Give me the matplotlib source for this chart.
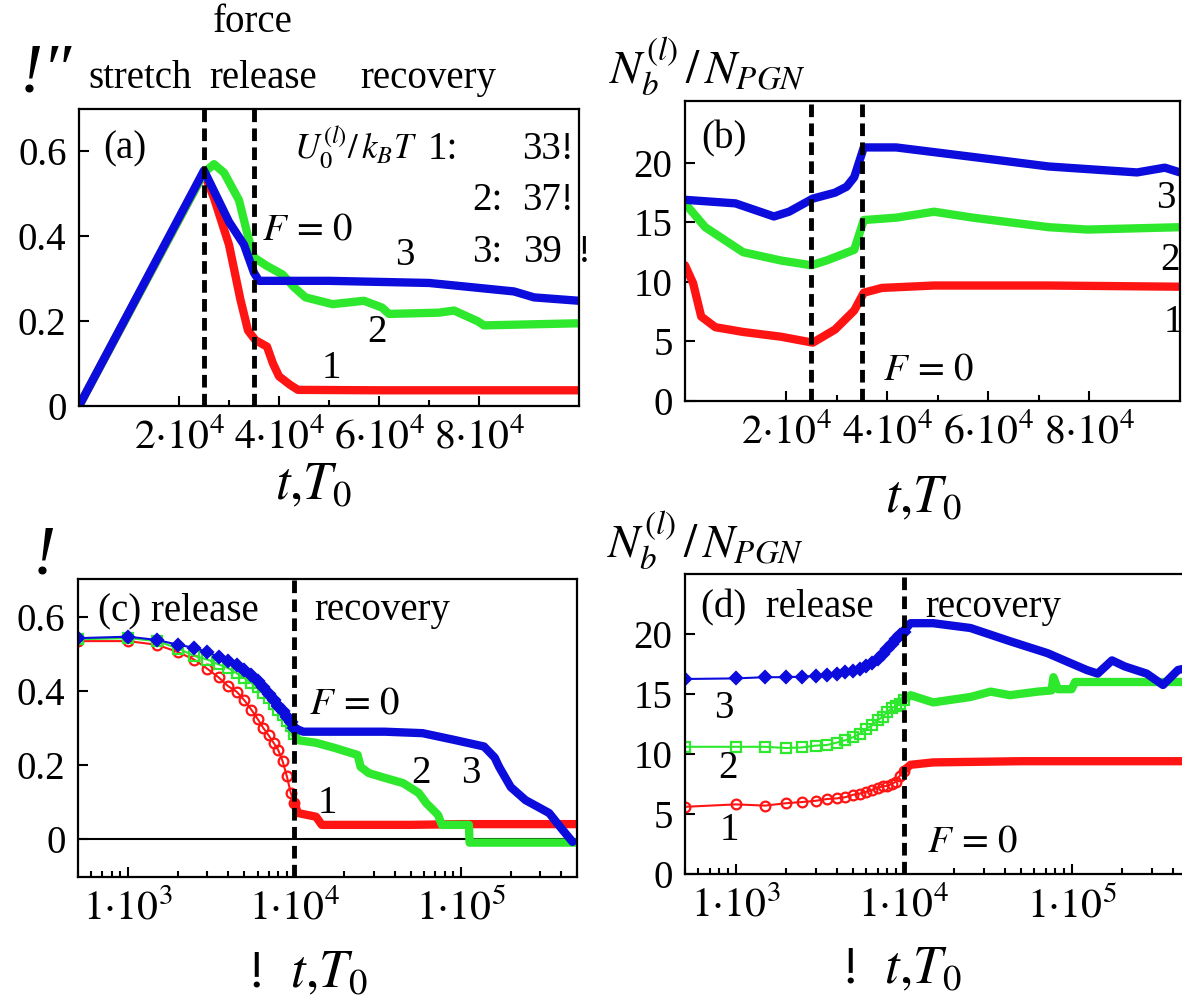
import matplotlib
matplotlib.use('Agg')
import matplotlib.pyplot as plt

plt.rcParams['font.family'] = ['Liberation Serif', 'DejaVu Serif']
plt.rcParams['mathtext.fontset'] = 'stix'

# ---------------- data ----------------
RED, GREEN, BLUE = '#ff1414', '#2ee82e', '#0c0cdc'

# panel (a): strain vs t (linear)
a_t1 = [0, 2.5e4, 2.7e4, 3.0e4, 3.23e4, 3.38e4, 3.53e4, 3.76e4, 3.88e4, 4.0e4, 4.22e4, 4.38e4, 6e4, 8e4, 1e5]
a_y1 = [0, 0.55, 0.49, 0.38, 0.25, 0.178, 0.155, 0.14, 0.10, 0.07, 0.05, 0.038, 0.037, 0.037, 0.037]
a_t2 = [0, 2.5e4, 2.7e4, 2.9e4, 3.2e4, 3.38e4, 3.5e4, 3.76e4, 4.07e4, 4.3e4, 4.53e4, 5.07e4, 5.7e4,
        6.06e4, 6.2e4, 7.2e4, 7.5e4, 7.97e4, 8.1e4, 1e5]
a_y2 = [0, 0.55, 0.57, 0.55, 0.485, 0.40, 0.35, 0.33, 0.31, 0.28, 0.256, 0.24, 0.248,
        0.232, 0.217, 0.22, 0.225, 0.20, 0.19, 0.195]
a_t3 = [0, 2.5e4, 3.0e4, 3.3e4, 3.5e4, 3.6e4, 5e4, 7e4, 7.6e4, 8.7e4, 9.1e4, 1e5]
a_y3 = [0, 0.555, 0.434, 0.38, 0.314, 0.295, 0.295, 0.29, 0.283, 0.27, 0.256, 0.248]

# panel (b): bonds per PGN vs t (linear)
b_t1 = [0, 0.16e4, 0.32e4, 0.6e4, 1.15e4, 1.9e4, 2.53e4, 2.97e4, 3.35e4, 3.54e4, 3.9e4, 4.93e4, 7.2e4, 9.8e4]
b_y1 = [11.4, 9.9, 7.1, 6.2, 5.8, 5.4, 4.9, 6.0, 7.6, 9.1, 9.5, 9.7, 9.7, 9.6]
b_t2 = [0, 0.4e4, 1.15e4, 1.9e4, 2.5e4, 2.8e4, 3.35e4, 3.54e4, 4.18e4, 4.93e4, 5.7e4, 7.2e4, 7.97e4, 9.8e4]
b_y2 = [16.6, 14.6, 12.5, 11.8, 11.4, 11.8, 12.7, 15.2, 15.4, 15.9, 15.4, 14.6, 14.4, 14.6]
b_t3 = [0, 1.0e4, 1.76e4, 2.06e4, 2.53e4, 2.97e4, 3.2e4, 3.35e4, 3.54e4, 4.18e4, 5.7e4, 7.2e4, 8.95e4, 9.5e4, 9.8e4]
b_y3 = [16.9, 16.6, 15.5, 15.9, 17.0, 17.5, 18.0, 18.8, 21.3, 21.3, 20.5, 19.7, 19.2, 19.6, 19.2]

# release-phase sample times (panels c, d)
t_rel = [500, 1000, 1500, 2000, 2500, 3000, 3500, 4000, 4500, 5000,
         5500, 6000, 6500, 7000, 7500, 8000, 8500, 9000, 9500, 10000]

# panel (c)
c_y1_rel = [0.535, 0.535, 0.525, 0.505, 0.485, 0.46, 0.437, 0.413, 0.398, 0.375,
            0.35, 0.325, 0.30, 0.28, 0.26, 0.24, 0.21, 0.17, 0.125, 0.097]
c_y2_rel = [0.54, 0.543, 0.535, 0.515, 0.495, 0.485, 0.472, 0.462, 0.448, 0.435,
            0.422, 0.41, 0.396, 0.38, 0.365, 0.35, 0.335, 0.32, 0.305, 0.285]
c_y3_rel = [0.543, 0.547, 0.538, 0.525, 0.517, 0.505, 0.493, 0.482, 0.47, 0.457,
            0.443, 0.428, 0.41, 0.393, 0.377, 0.36, 0.345, 0.33, 0.315, 0.30]
c_t1_rec = [1e4, 1.05e4, 1.35e4, 1.46e4, 5e4, 1e5, 5e5]
c_y1_rec = [0.097, 0.07, 0.06, 0.038, 0.038, 0.04, 0.04]
c_t2_rec = [1e4, 1.05e4, 1.35e4, 1.75e4, 2.4e4, 2.5e4, 2.8e4, 3.5e4, 4.5e4, 5.6e4, 6.2e4,
            7.3e4, 7.7e4, 1.12e5, 1.13e5, 5e5]
c_y2_rec = [0.285, 0.267, 0.26, 0.246, 0.227, 0.195, 0.178, 0.165, 0.151, 0.124, 0.097,
            0.065, 0.038, 0.038, -0.01, -0.01]
c_t3_rec = [1e4, 1.13e4, 3.5e4, 5.9e4, 9.1e4, 1.38e5, 1.6e5, 1.7e5, 2.0e5, 2.45e5, 3.4e5, 4.0e5, 4.7e5]
c_y3_rec = [0.30, 0.29, 0.29, 0.286, 0.268, 0.25, 0.22, 0.195, 0.14, 0.105, 0.07, 0.03, -0.008]

# panel (d)
d_y1_rel = [5.6, 5.8, 5.7, 5.9, 6.0, 6.1, 6.25, 6.3, 6.4, 6.6,
            6.7, 6.85, 7.0, 7.2, 7.3, 7.35, 7.5, 7.7, 8.2, 8.6]
d_y2_rel = [10.6, 10.6, 10.6, 10.5, 10.55, 10.7, 10.75, 10.95, 11.15, 11.4,
            11.7, 12.1, 12.4, 12.8, 13.1, 13.5, 13.8, 14.0, 14.2, 14.5]
d_y3_rel = [16.25, 16.3, 16.4, 16.4, 16.45, 16.5, 16.6, 16.7, 16.8, 16.9,
            17.05, 17.3, 17.6, 17.9, 18.3, 18.75, 19.2, 19.6, 19.9, 20.2]
d_t1_rec = [1e4, 1.1e4, 1.5e4, 5e4, 1e5, 5e5]
d_y1_rec = [8.6, 9.1, 9.3, 9.4, 9.4, 9.4]
d_t2_rec = [1e4, 1.1e4, 1.5e4, 2.5e4, 3.3e4, 4.3e4, 6.3e4, 7.6e4, 7.8e4, 8.3e4, 1.0e5, 1.05e5, 5e5]
d_y2_rec = [14.5, 14.9, 14.3, 14.75, 15.2, 14.9, 15.2, 15.3, 16.4, 15.4, 15.4, 16.0, 16.0]
d_t3_rec = [1e4, 1.1e4, 1.5e4, 2.5e4, 4.3e4, 7.2e4, 9.4e4, 1.23e5, 1.43e5, 1.74e5, 2.07e5,
            2.8e5, 3.5e5, 4.3e5, 5e5]
d_y3_rec = [20.2, 20.9, 20.9, 20.5, 19.4, 18.4, 17.7, 17.0, 16.7, 17.8, 17.3,
            16.7, 15.75, 17.0, 17.2]

t_lin_major = [2e4, 4e4, 6e4, 8e4]
t_lin_labels = [r'$2{\cdot}10^4$', r'$4{\cdot}10^4$', r'$6{\cdot}10^4$', r'$8{\cdot}10^4$']
t_lin_minor = [3e4, 5e4, 7e4]
t_log_major = [1e3, 1e4, 1e5]
t_log_labels = [r'$1{\cdot}10^3$', r'$1{\cdot}10^4$', r'$1{\cdot}10^5$']
strain_ticks = [0, 0.2, 0.4, 0.6]
strain_labels = ['0', '0.2', '0.4', '0.6']
bond_ticks = [0, 5, 10, 15, 20]
bond_labels = ['0', '5', '10', '15', '20']

# ---------------- figure ----------------
W, H = 1182, 1008
fig = plt.figure(figsize=(W / 100, H / 100), dpi=100)


def axpx(l, t, r, b):
    return fig.add_axes([l / W, 1 - b / H, (r - l) / W, (b - t) / H])


def ftxt(x, y, s, size=28, **kw):
    kw.setdefault('ha', 'left')
    kw.setdefault('va', 'baseline')
    fig.text(x / W, 1 - y / H, s, fontsize=size, **kw)


def style(ax):
    for sp in ax.spines.values():
        sp.set_linewidth(1.6)
    ax.tick_params(which='both', direction='in', top=False, right=False, width=1.5)
    ax.tick_params(axis='y', labelsize=28)
    ax.tick_params(axis='x', labelsize=30)
    ax.tick_params(which='major', length=7, pad=9)
    ax.tick_params(which='minor', length=4)


LW = 6
dash = (0, (2.6, 1.3))

axA = axpx(79, 109, 579, 406)
axB = axpx(685, 101, 1180, 401)
axC = axpx(78, 579, 577, 877)
axD = axpx(685, 574, 1189, 874)

# (a)
for t, y, c in [(a_t1, a_y1, RED), (a_t2, a_y2, GREEN), (a_t3, a_y3, BLUE)]:
    axA.plot(t, y, color=c, lw=LW, solid_capstyle='round', solid_joinstyle='round')
axA.set_xlim(0, 1e5)
axA.set_ylim(0, 0.7)
for xv in (2.5e4, 3.5e4):
    axA.axvline(xv, color='k', lw=3.5, ls=dash, zorder=5)

# (b)
for t, y, c in [(b_t1, b_y1, RED), (b_t2, b_y2, GREEN), (b_t3, b_y3, BLUE)]:
    axB.plot(t, y, color=c, lw=LW, solid_capstyle='round', solid_joinstyle='round')
axB.set_xlim(0, 9.8e4)
axB.set_ylim(0, 25.2)
for xv in (2.5e4, 3.5e4):
    axB.axvline(xv, color='k', lw=3.5, ls=dash, zorder=5)

for ax in (axA, axB):
    ax.set_xticks(t_lin_major)
    ax.set_xticklabels(t_lin_labels)
    ax.set_xticks(t_lin_minor, minor=True)
axA.set_yticks(strain_ticks)
axA.set_yticklabels(strain_labels)
axB.set_yticks(bond_ticks)
axB.set_yticklabels(bond_labels)

# (c)
axC.axhline(0, color='k', lw=1.5, zorder=1)
sets_c = [(c_y1_rel, c_t1_rec, c_y1_rec, RED, 'o', 'none'),
          (c_y2_rel, c_t2_rec, c_y2_rec, GREEN, 's', 'none'),
          (c_y3_rel, c_t3_rec, c_y3_rec, BLUE, 'D', BLUE)]
for yr, tr, yv, c, m, fc in sets_c:
    axC.plot(tr, yv, color=c, lw=LW, solid_capstyle='round', solid_joinstyle='round')
    axC.plot(t_rel, yr, color=c, lw=1.5, marker=m, mfc=fc, mec=c, ms=7 if m != 'D' else 6, mew=1.6)
axC.set_xscale('log')
axC.set_xlim(500, 5e5)
axC.set_ylim(-0.103, 0.703)
axC.axvline(1e4, color='k', lw=3.5, ls=dash, zorder=5)
axC.set_yticks(strain_ticks)
axC.set_yticklabels(strain_labels)

# (d)
sets_d = [(d_y1_rel, d_t1_rec, d_y1_rec, RED, 'o', 'none'),
          (d_y2_rel, d_t2_rec, d_y2_rec, GREEN, 's', 'none'),
          (d_y3_rel, d_t3_rec, d_y3_rec, BLUE, 'D', BLUE)]
for yr, tr, yv, c, m, fc in sets_d:
    axD.plot(tr, yv, color=c, lw=LW, solid_capstyle='round', solid_joinstyle='round')
    axD.plot(t_rel, yr, color=c, lw=1.5, marker=m, mfc=fc, mec=c, ms=7 if m != 'D' else 6, mew=1.6)
axD.set_xscale('log')
axD.set_xlim(500, 5e5)
axD.set_ylim(0, 25)
axD.axvline(1e4, color='k', lw=3.5, ls=dash, zorder=5)
axD.set_yticks(bond_ticks)
axD.set_yticklabels(bond_labels)

for ax in (axC, axD):
    ax.set_xticks(t_log_major)
    ax.set_xticklabels(t_log_labels)
    ax.xaxis.set_minor_locator(matplotlib.ticker.LogLocator(base=10, subs=range(2, 10)))
    ax.xaxis.set_minor_formatter(matplotlib.ticker.NullFormatter())

for ax in (axA, axB, axC, axD):
    style(ax)

# ---------------- texts ----------------
XL = r'$t{,}T_{\mathit{0}}$'
XL2 = r'!  $t{,}T_{\mathit{0}}$'
YN = r'$N_b^{(l)}\,/\,N_{PGN}$'
F0 = r'$F\,=\,0$'

# top-left of (a)
ftxt(20, 92, '!\u2033', size=50, style='italic')
ftxt(88, 88, 'stretch')
ftxt(253, 32, 'force', ha='center')
ftxt(209, 88, 'release')
ftxt(360, 88, 'recovery')
# inside (a)
ftxt(103, 158, '(a)')
ftxt(294, 159, r'$U_0^{(l)}/\,k_BT$', size=25)
ftxt(428, 159, '1:')
ftxt(574, 159, '33!', ha='right')
ftxt(472, 210, '2:')
ftxt(574, 210, '37!', ha='right')
ftxt(472, 262, '3:')
ftxt(562, 262, '39', ha='right')
ftxt(578, 262, '!')
ftxt(262, 239, F0)
ftxt(395, 265, '3')
ftxt(367, 342, '2')
ftxt(322, 378, '1')
ftxt(275, 499, XL, size=38)

# (b)
ftxt(609, 83, YN, size=34)
ftxt(701, 148, '(b)')
ftxt(1156, 208, '3')
ftxt(1160, 270, '2')
ftxt(1164, 332, '1')
ftxt(883, 380, F0)
ftxt(885, 512, XL, size=38)

# (c)
ftxt(33, 573, '!', size=50, style='italic')
ftxt(98, 620, '(c) release')
ftxt(314, 620, 'recovery')
ftxt(309, 713, F0)
ftxt(411, 783, '2')
ftxt(461, 783, '3')
ftxt(318, 813, '1')
ftxt(247, 987, XL2, size=38)

# (d)
ftxt(607, 557, YN, size=34)
ftxt(701, 617, '(d)  release')
ftxt(925, 617, 'recovery')
ftxt(714, 718, '3')
ftxt(718, 778, '2')
ftxt(720, 840, '1')
ftxt(927, 852, F0)
ftxt(841, 983, XL2, size=38)

fig.savefig('out.png', dpi=100)
